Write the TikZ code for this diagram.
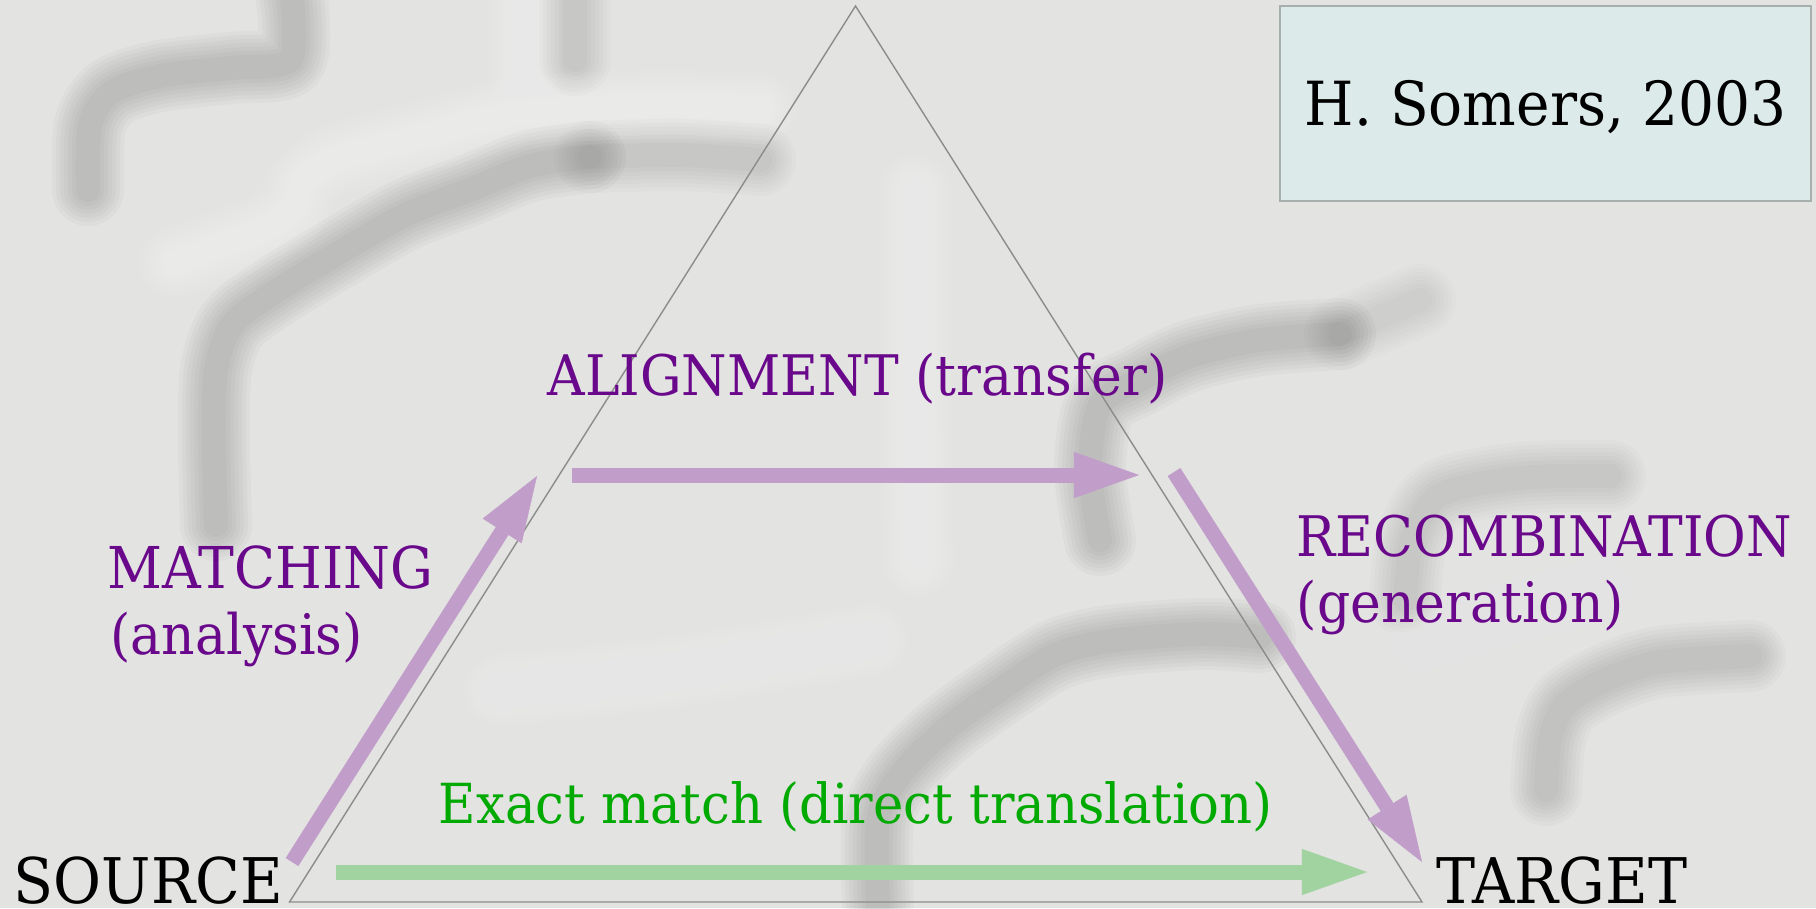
\documentclass[tikz,border=0pt]{standalone}
\usepackage{fontspec}
\usetikzlibrary{arrows.meta}
\newfontfamily\labelfont[FakeStretch=0.93]{DejaVu Serif}

\definecolor{bg}{RGB}{227,227,225}
\definecolor{labpurple}{RGB}{106,8,140}
\definecolor{labgreen}{RGB}{0,170,0}
\definecolor{arrpurple}{RGB}{193,158,201}
\definecolor{arrgreen}{RGB}{160,211,160}
\definecolor{boxfill}{RGB}{220,234,233}
\definecolor{boxline}{RGB}{166,175,174}
\definecolor{edgegray}{RGB}{140,140,140}

% soft, blurred pen stroke of the faded handwriting in the background
\newcommand\haze[3]{%
  \foreach \lw in {0.72,0.64,0.56,0.48,0.40,0.32,0.24}{%
    \draw[#1, opacity=#2, line width=\lw cm, line cap=round, line join=round]
      plot[smooth] coordinates {#3};}}

\tikzset{
  lbl/.style={font=\labelfont\fontsize{15.9}{19}\selectfont, inner sep=0pt,
              anchor=base west, text=labpurple},
  endlbl/.style={font=\labelfont\fontsize{17.9}{21}\selectfont, inner sep=0pt,
              anchor=base west, text=black, text depth=0pt},
  flow/.style={line width=0.15cm,
               -{Triangle[length=0.65cm, width=0.46cm, line width=0.1pt]}},
  credit/.style={draw=boxline, fill=boxfill, line width=0.45pt,
                 minimum width=5.31cm, minimum height=1.95cm, inner sep=0pt,
                 font=\labelfont\fontsize{17.3}{20}\selectfont,
                 text height=0.44cm, text depth=0pt},
}

\begin{document}
\begin{tikzpicture}[x=0.01cm, y=-0.01cm]
\useasboundingbox (0,0) rectangle (1816,908);
\fill[bg] (0,0) rectangle (1816,908);

% faded handwriting behind the diagram
\begin{scope}
  \clip (0,0) rectangle (1816,908);
  \haze{black}{0.022}{(292,0) (290,60) (230,68) (160,76) (112,92) (90,125) (88,190)}
  \haze{black}{0.022}{(216,525) (214,440) (216,370) (232,325) (270,295) (330,258) (405,215) (470,190) (530,166) (590,157)}
  \haze{black}{0.014}{(590,157) (680,155) (760,160)}
  \haze{black}{0.014}{(575,0) (575,60)}
  \haze{black}{0.022}{(1100,540) (1090,470) (1100,405) (1140,380) (1190,356) (1260,340) (1340,334)}
  \haze{black}{0.011}{(1340,334) (1420,300)}
  \haze{black}{0.022}{(878,908) (878,820) (900,775) (945,730) (1000,690) (1055,655) (1110,641) (1200,634) (1260,637)}
  \haze{black}{0.02}{(1546,790) (1550,740) (1565,705) (1605,680) (1660,662) (1750,656)}
  \haze{black}{0.017}{(1405,600) (1412,540) (1440,495) (1520,478) (1610,476)}
  \haze{white}{0.05}{(175,262) (250,235) (290,212) (305,180) (340,158) (430,134) (520,113) (650,106) (760,108)}
  \haze{white}{0.045}{(525,0) (525,80)}
  \haze{white}{0.045}{(915,190) (915,380) (918,560)}
  \haze{white}{0.04}{(500,690) (650,675) (780,655) (870,640)}
  \haze{white}{0.035}{(1420,640) (1520,610) (1600,590)}
\end{scope}

% the triangle
\coordinate (apex) at (855.5,6);
\coordinate (bl) at (289.5,902);
\coordinate (br) at (1422,902);
\draw[edgegray, line width=0.4pt, line join=miter] (bl) -- (apex) -- (br) -- cycle;

% arrow end points
\coordinate (m0) at (292,862);
\coordinate (m1) at (537,476);
\coordinate (a0) at (572,475);
\coordinate (a1) at (1139,475);
\coordinate (r0) at (1174,472);
\coordinate (r1) at (1422,862);
\coordinate (e0) at (336,872);
\coordinate (e1) at (1367,872);

\draw[flow, arrpurple] (m0) -- (m1);
\draw[flow, arrpurple] (a0) -- (a1);
\draw[flow, arrpurple] (r0) -- (r1);
\draw[flow, arrgreen] (e0) -- (e1);

% labels
\node[lbl] (align) at (547,395) {ALIGNMENT (transfer)};
\node[lbl, font=\labelfont\fontsize{16.4}{19}\selectfont] (match) at (107,588) {MATCHING};
\node[lbl] (matchsub) at (110,654) {(analysis)};
\node[lbl] (recomb) at (1296,556) {RECOMBINATION};
\node[lbl] (recombsub) at (1296,622) {(generation)};
\node[lbl, text=labgreen, font=\labelfont\fontsize{15.7}{19}\selectfont] (exact) at (438,823) {Exact match (direct translation)};
\node[endlbl] (source) at (13,903) {SOURCE};
\node[endlbl] (target) at (1436,903) {TARGET};

\node[credit] (cite) at (1545.5,103.5) {H. Somers, 2003};
\end{tikzpicture}
\end{document}
